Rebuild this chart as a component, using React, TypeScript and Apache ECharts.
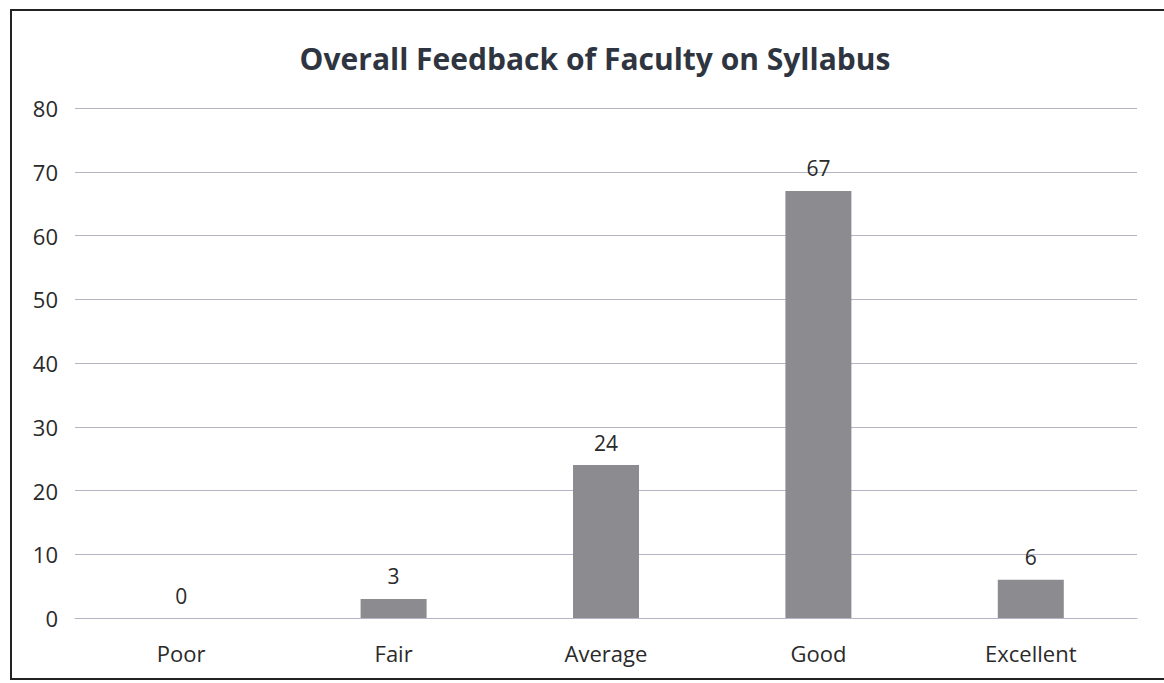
import React, { useEffect, useRef } from "react";
import * as echarts from "echarts";

const categories = ["Poor", "Fair", "Average", "Good", "Excellent"];
const values = [0, 3, 24, 67, 6];
const titleText = "Overall Feedback of Faculty on Syllabus";

export default function App() {
  const ref = useRef<HTMLDivElement>(null);
  useEffect(() => {
    const chart = echarts.init(ref.current!, null, { renderer: "svg" });
    const font = "'Open Sans', 'Noto Sans', sans-serif";
    chart.setOption({
      animation: false,
      backgroundColor: "#ffffff",
      title: {
        text: titleText,
        left: 590,
        textAlign: "center",
        top: 38,
        textStyle: { fontFamily: font, fontSize: 30, fontWeight: "bold", color: "#2f3540" },
      },
      grid: { left: 75, right: 27, top: 108, bottom: 65 },
      xAxis: {
        type: "category",
        data: categories,
        axisLine: { show: true, lineStyle: { color: "#b4b4c4", width: 1 } },
        axisTick: { show: false },
        axisLabel: { fontFamily: font, fontSize: 22, color: "#2a2a2a", margin: 24 },
      },
      yAxis: {
        type: "value",
        min: 0,
        max: 80,
        interval: 10,
        axisLine: { show: false },
        axisTick: { show: false },
        axisLabel: { fontFamily: font, fontSize: 22, color: "#2a2a2a", margin: 17 },
        splitLine: { lineStyle: { color: "#b4b4c4", width: 1.2 } },
      },
      series: [
        {
          type: "bar",
          data: values,
          barWidth: 66,
          itemStyle: { color: "#8c8c90" },
          label: {
            show: true,
            position: "top",
            distance: 12,
            fontFamily: font,
            fontSize: 21,
            color: "#2a2a2a",
          },
        },
      ],
      graphic: [
        {
          type: "rect",
          shape: { x: 11, y: 10, width: 1170, height: 669 },
          style: { fill: "none", stroke: "#222", lineWidth: 2 },
          silent: true,
        },
      ],
    });
    return () => chart.dispose();
  }, []);
  return (
    <div
      ref={ref}
      style={{ position: "fixed", left: 0, top: 0, width: 1164, height: 683 }}
    />
  );
}
